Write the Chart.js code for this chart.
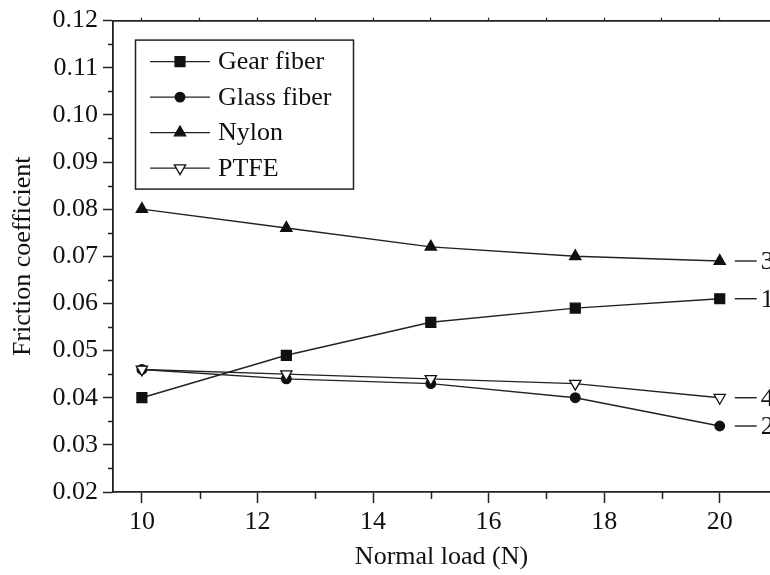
<!DOCTYPE html>
<html lang="en">
<head>
<meta charset="UTF-8">
<title>Friction coefficient vs normal load</title>
<script src="https://cdn.jsdelivr.net/npm/chart.js"></script>
<style>
  html, body { margin: 0; padding: 0; background: #fff; overflow: hidden; }
  #wrap { width: 770px; height: 575px; }
</style>
</head>
<body>
<div id="wrap"><canvas id="frictionChart"></canvas></div>
<script>
// measured friction coefficient per material
const loads = [10, 12.5, 15, 17.5, 20];
const gearFiber = [0.040, 0.049, 0.056, 0.059, 0.061];
const glassFiber = [0.046, 0.044, 0.043, 0.040, 0.034];
const nylon = [0.080, 0.076, 0.072, 0.070, 0.069];
const ptfe = [0.046, 0.045, 0.044, 0.043, 0.040];

const seriesNames = ['Gear fiber', 'Glass fiber', 'Nylon', 'PTFE'];
const curveTags = ['1', '2', '3', '4'];

const xTicks = [10, 12, 14, 16, 18, 20];
const xMinorTicks = [11, 13, 15, 17, 19];
const topTicks = [10, 11, 12, 13, 14, 15, 16, 17, 18, 19, 20];
const yTicks = [0.02, 0.03, 0.04, 0.05, 0.06, 0.07, 0.08, 0.09, 0.10, 0.11, 0.12];
const yMinorTicks = [0.025, 0.035, 0.045, 0.055, 0.065, 0.075, 0.085, 0.095, 0.105, 0.115];

const INK = '#111';
const SERIF = '"Liberation Serif", "Times New Roman", serif';

const markers = [
    { pointStyle: 'rect', radius: 7, rotation: 0, fill: INK },
    { pointStyle: 'circle', radius: 4.8, rotation: 0, fill: INK },
    { pointStyle: 'triangle', radius: 6.5, rotation: 0, fill: INK },
    { pointStyle: 'triangle', radius: 6.5, rotation: 180, fill: '#fff' }
];

function makeDataset(name, values, m, order) {
    return {
        label: name,
        data: loads.map((x, i) => ({ x: x, y: values[i] })),
        order: order,
        borderColor: '#222',
        borderWidth: 1.4,
        pointStyle: m.pointStyle,
        pointRadius: m.radius,
        pointRotation: m.rotation,
        pointBackgroundColor: m.fill,
        pointBorderColor: INK,
        pointBorderWidth: 1.3,
        pointHoverRadius: m.radius,
        tension: 0
    };
}

function drawMarker(ctx, m, x, y) {
    ctx.save();
    ctx.fillStyle = m.fill;
    ctx.strokeStyle = INK;
    ctx.lineWidth = 1.3;
    Chart.helpers.drawPoint(ctx, { pointStyle: m.pointStyle, rotation: m.rotation, radius: m.radius, borderWidth: 1.3 }, x, y);
    ctx.restore();
}

// minor ticks, boxed legend and the numbered curve tags
const decorations = {
    id: 'decorations',
    afterDraw(chart) {
        const ctx = chart.ctx;
        const area = chart.chartArea;
        const xs = chart.scales.x;
        const ys = chart.scales.y;

        ctx.save();
        ctx.strokeStyle = '#222';
        ctx.lineWidth = 1.5;
        ctx.beginPath();
        yMinorTicks.forEach(v => {
            const py = Math.round(ys.getPixelForValue(v)) + 0.5;
            ctx.moveTo(area.left - 5, py);
            ctx.lineTo(area.left, py);
        });
        xMinorTicks.forEach(v => {
            const px = Math.round(xs.getPixelForValue(v)) + 0.5;
            ctx.moveTo(px, area.bottom);
            ctx.lineTo(px, area.bottom + 7);
        });
        ctx.stroke();

        // legend box
        const bx = area.left + 22, by = area.top + 19, bw = 218, bh = 149;
        ctx.lineWidth = 1.5;
        ctx.strokeRect(bx + 0.5, by + 0.5, bw, bh);
        ctx.font = '26px ' + SERIF;
        ctx.fillStyle = INK;
        ctx.textBaseline = 'middle';
        ctx.textAlign = 'left';
        seriesNames.forEach((name, i) => {
            const ry = by + 22 + i * 35.5;
            ctx.strokeStyle = '#222';
            ctx.lineWidth = 1.4;
            ctx.beginPath();
            ctx.moveTo(bx + 15, ry);
            ctx.lineTo(bx + 75, ry);
            ctx.stroke();
            drawMarker(ctx, markers[i], bx + 45, ry);
            ctx.fillStyle = INK;
            ctx.fillText(name, bx + 83, ry + 1);
        });

        // tags after each curve's last point
        chart.data.datasets.forEach((ds, i) => {
            const last = ds.data[ds.data.length - 1];
            const px = xs.getPixelForValue(last.x);
            const py = ys.getPixelForValue(last.y);
            ctx.strokeStyle = '#222';
            ctx.lineWidth = 1.4;
            ctx.beginPath();
            ctx.moveTo(px + 15, py);
            ctx.lineTo(px + 37, py);
            ctx.stroke();
            ctx.fillStyle = INK;
            ctx.fillText(curveTags[i], px + 41, py + 1);
        });
        ctx.restore();
    }
};

new Chart(document.getElementById('frictionChart'), {
    type: 'line',
    data: {
        datasets: [
            makeDataset(seriesNames[0], gearFiber, markers[0], 0),
            makeDataset(seriesNames[1], glassFiber, markers[1], 0),
            makeDataset(seriesNames[2], nylon, markers[2], 0),
            // open PTFE triangles sit above the glass fiber dots
            makeDataset(seriesNames[3], ptfe, markers[3], -1)
        ]
    },
    options: {
        responsive: true,
        maintainAspectRatio: false,
        animation: false,
        devicePixelRatio: 1,
        // the plot runs off the right edge, so no room is kept for markers there
        layout: { padding: 0, autoPadding: false },
        plugins: {
            legend: { display: false },
            tooltip: { enabled: false }
        },
        scales: {
            x: {
                type: 'linear',
                position: 'bottom',
                min: 9.5,
                max: 20.87,
                afterBuildTicks: s => { s.ticks = xTicks.map(v => ({ value: v })); },
                afterFit: s => { s.height = 83; },
                grid: { drawOnChartArea: false, tickLength: 11, tickColor: '#222', tickWidth: 1.5 },
                border: { color: '#222', width: 1.8 },
                ticks: {
                    color: INK,
                    padding: 4,
                    maxRotation: 0,
                    font: { family: SERIF, size: 26 },
                    callback: v => String(v)
                },
                title: {
                    display: true,
                    text: 'Normal load (N)',
                    color: INK,
                    font: { family: SERIF, size: 26 },
                    padding: { top: 0, bottom: 2 }
                }
            },
            xTop: {
                type: 'linear',
                position: 'top',
                min: 9.5,
                max: 20.87,
                afterBuildTicks: s => { s.ticks = topTicks.map(v => ({ value: v })); },
                afterFit: s => { s.height = 15; },
                grid: { drawOnChartArea: false, tickLength: 3, tickColor: '#222', tickWidth: 1.2 },
                border: { color: '#222', width: 1.8 },
                ticks: { display: false }
            },
            y: {
                type: 'linear',
                position: 'left',
                min: 0.02,
                max: 0.12,
                afterBuildTicks: s => { s.ticks = yTicks.map(v => ({ value: v })); },
                afterFit: s => { s.width = 113; },
                grid: { drawOnChartArea: false, tickLength: 10, tickColor: '#222', tickWidth: 1.5 },
                border: { color: '#222', width: 1.8 },
                ticks: {
                    color: INK,
                    padding: 5,
                    font: { family: SERIF, size: 26 },
                    callback: v => v.toFixed(2)
                },
                title: {
                    display: true,
                    text: 'Friction coefficient',
                    color: INK,
                    font: { family: SERIF, size: 26 },
                    padding: { top: 8, bottom: 0 }
                }
            }
        }
    },
    plugins: [decorations]
});
</script>
</body>
</html>
